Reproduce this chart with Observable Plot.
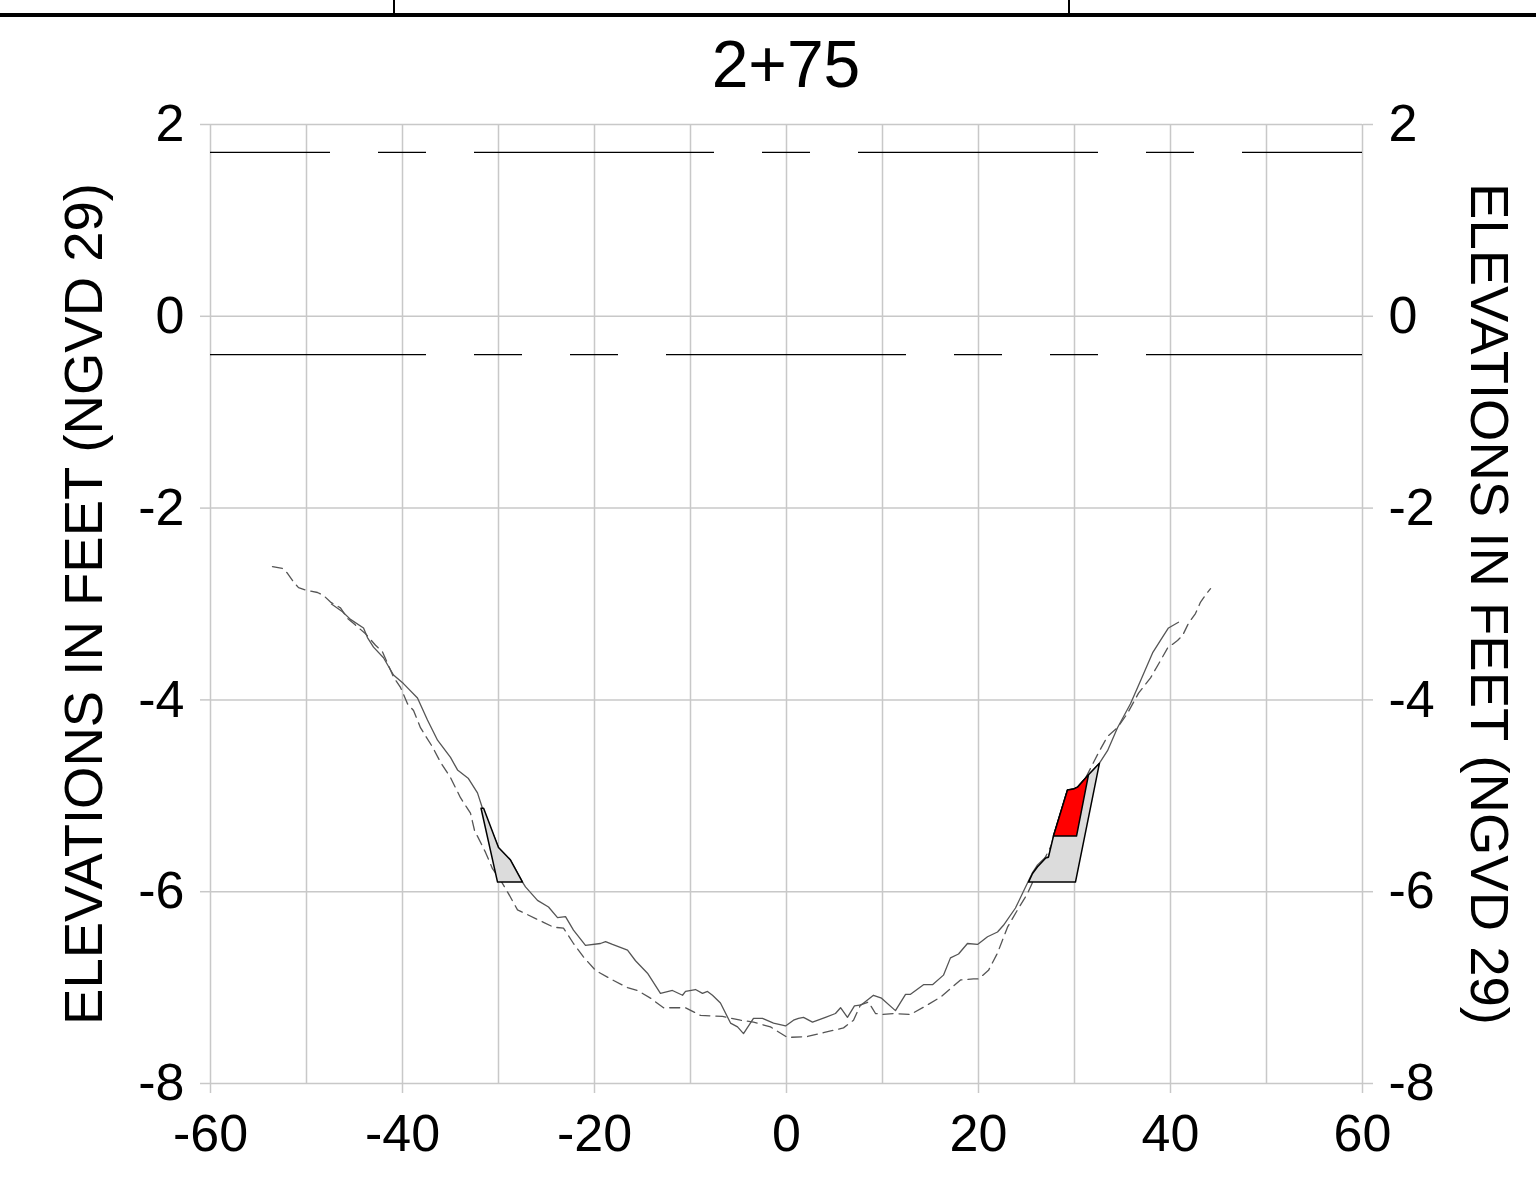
<!DOCTYPE html>
<html>
<head>
<meta charset="utf-8">
<script src="https://cdn.jsdelivr.net/npm/d3@7"></script>
<script src="https://cdn.jsdelivr.net/npm/@observablehq/plot@0.6"></script>
<style>
  html, body { margin: 0; padding: 0; background: white; }
  body { position: relative; width: 1536px; height: 1185px; overflow: hidden; font-family: "Liberation Sans", Arial, sans-serif; }
  #header { position: absolute; left: 0; top: 0; width: 1536px; height: 100px; z-index: 2; pointer-events: none; }
  #rule { position: absolute; left: 0; top: 13px; width: 1536px; height: 4px; background: black; }
  .vsep { position: absolute; top: 0; width: 1.5px; height: 13px; background: black; }
  #title { position: absolute; left: 386px; width: 800px; top: 31px; text-align: center; font-size: 66px; line-height: 66px; color: black; }
  #chart { position: absolute; left: 0; top: 0; z-index: 1; }
  #chart svg { display: block; }
</style>
</head>
<body>
<div id="chart"></div>
<div id="header">
  <div id="rule"></div>
  <div class="vsep" style="left:393px"></div>
  <div class="vsep" style="left:1068px"></div>
  <div id="title"></div>
</div>
<script>
// ---- Data ----
const stationTitle = "2+75";
const axisTitle = "ELEVATIONS IN FEET (NGVD 29)";
const xTicks = [-60, -40, -20, 0, 20, 40, 60];
const yTicks = [-8, -6, -4, -2, 0, 2];
const xGrid = [-60, -50, -40, -30, -20, -10, 0, 10, 20, 30, 40, 50, 60];
const yGrid = [-8, -6, -4, -2, 0, 2];
const upperWaterLevel = 1.71;
const lowerWaterLevel = -0.40;

// Solid profile (offset ft, elevation ft)
const solidProfile = [
  [-47.40,-3.00],[-46.25,-3.08],[-45.42,-3.16],[-44.06,-3.25],[-43.65,-3.35],[-43.02,-3.45],
  [-41.98,-3.56],[-40.94,-3.74],[-39.90,-3.83],[-38.44,-3.98],[-37.40,-4.21],[-36.35,-4.42],
  [-35.00,-4.60],[-34.27,-4.73],[-33.13,-4.82],[-32.19,-4.97],[-31.67,-5.13],[-30.00,-5.54],
  [-28.75,-5.67],[-27.50,-5.90],[-27.19,-5.95],[-25.94,-6.09],[-24.79,-6.16],[-23.85,-6.27],
  [-23.02,-6.26],[-22.19,-6.40],[-20.94,-6.56],[-19.38,-6.54],[-18.85,-6.52],[-18.13,-6.55],
  [-16.56,-6.61],[-15.73,-6.72],[-14.48,-6.85],[-13.13,-7.06],[-11.88,-7.03],[-10.83,-7.08],
  [-10.52,-7.04],[-9.48,-7.02],[-8.75,-7.06],[-8.23,-7.04],[-7.71,-7.08],[-6.88,-7.16],
  [-5.83,-7.37],[-5.10,-7.41],[-4.48,-7.48],[-3.44,-7.32],[-2.50,-7.32],[-1.35,-7.37],
  [-0.10,-7.40],[0.73,-7.34],[1.25,-7.32],[1.77,-7.31],[2.71,-7.36],[4.06,-7.31],
  [5.10,-7.27],[5.63,-7.21],[6.35,-7.31],[7.08,-7.19],[7.81,-7.18],[9.06,-7.08],
  [9.90,-7.11],[11.35,-7.24],[12.40,-7.07],[12.92,-7.07],[14.27,-6.97],[15.21,-6.97],
  [16.35,-6.87],[17.08,-6.69],[17.92,-6.65],[18.85,-6.54],[19.90,-6.55],[20.94,-6.47],
  [21.98,-6.42],[22.60,-6.35],[23.85,-6.17],[25.10,-5.91],[25.63,-5.80],[26.15,-5.72],
  [26.98,-5.64],[27.29,-5.64],[27.81,-5.42],[29.27,-4.94],[29.90,-4.93],[30.31,-4.91],
  [31.46,-4.78],[32.60,-4.66],[33.44,-4.53],[34.48,-4.29],[35.83,-4.04],[36.88,-3.80],
  [38.13,-3.51],[39.27,-3.33],[39.79,-3.25],[40.83,-3.19]
];

// Dashed profile
const dashedProfile = [
  [-53.54,-2.61],[-52.50,-2.63],[-51.98,-2.68],[-51.35,-2.77],[-50.83,-2.83],[-49.90,-2.86],
  [-48.85,-2.88],[-48.23,-2.91],[-47.50,-2.98],[-46.46,-3.04],[-45.73,-3.15],[-44.90,-3.22],
  [-43.85,-3.31],[-42.81,-3.43],[-42.08,-3.50],[-41.56,-3.62],[-40.94,-3.76],[-40.21,-3.87],
  [-39.48,-4.04],[-38.85,-4.11],[-38.13,-4.29],[-36.88,-4.49],[-36.04,-4.65],[-35.00,-4.81],
  [-33.96,-5.02],[-32.92,-5.18],[-32.50,-5.36],[-31.35,-5.59],[-30.63,-5.76],[-29.79,-5.88],
  [-28.96,-6.02],[-28.02,-6.19],[-25.31,-6.32],[-24.27,-6.37],[-23.23,-6.38],[-22.19,-6.54],
  [-21.15,-6.68],[-19.90,-6.82],[-18.33,-6.91],[-16.56,-7.00],[-15.52,-7.03],[-14.17,-7.11],
  [-12.81,-7.21],[-10.52,-7.21],[-8.96,-7.29],[-6.67,-7.30],[-4.79,-7.34],[-3.44,-7.36],
  [-1.67,-7.41],[0.10,-7.52],[2.19,-7.51],[3.85,-7.47],[5.94,-7.42],[6.98,-7.34],
  [7.71,-7.18],[8.54,-7.15],[9.27,-7.27],[10.00,-7.28],[11.15,-7.27],[12.92,-7.28],
  [14.69,-7.18],[16.04,-7.10],[17.08,-7.01],[18.13,-6.92],[19.48,-6.91],[20.00,-6.91],
  [21.04,-6.82],[21.98,-6.64],[23.02,-6.37],[24.06,-6.19],[25.10,-6.02],[25.73,-5.88],
  [26.25,-5.78],[32.50,-4.55],[33.44,-4.38],[34.48,-4.29],[35.52,-4.14],[36.67,-3.93],
  [37.92,-3.77],[38.96,-3.59],[39.69,-3.46],[40.73,-3.38],[41.25,-3.33],[41.88,-3.20],
  [42.60,-3.10],[43.13,-2.98],[43.85,-2.88],[44.17,-2.84]
];

// Filled areas (polygon vertices)
const leftFill = [
  [-31.82,-5.13],[-31.55,-5.13],[-30.00,-5.54],[-28.75,-5.67],[-27.50,-5.90],[-30.10,-5.90],[-31.82,-5.13]
];
const rightFill = [
  [25.21,-5.90],[25.63,-5.81],[26.15,-5.74],[26.98,-5.65],[27.29,-5.64],[27.81,-5.42],
  [29.27,-4.94],[29.90,-4.93],[30.31,-4.91],[31.46,-4.78],[32.60,-4.66],[30.10,-5.90],[25.21,-5.90]
];
const redFill = [
  [27.81,-5.42],[29.27,-4.94],[29.90,-4.93],[30.31,-4.91],[31.46,-4.78],[30.21,-5.42],[27.81,-5.42]
];

// ---- Chart ----
document.getElementById("title").textContent = stationTitle;

const gridStyle = {stroke: "#c8c8c8", strokeOpacity: 1, strokeWidth: 1.5};
const fmt = d => String(d);
const X = d => d[0], Y = d => d[1];

const chart = Plot.plot({
  width: 1536,
  height: 1185,
  marginLeft: 210,
  marginRight: 174,
  marginTop: 124,
  marginBottom: 102,
  style: {fontFamily: "'Liberation Sans', Arial, sans-serif", fontSize: "52px", background: "white", color: "black"},
  x: {domain: [-60, 60]},
  y: {domain: [-8, 2]},
  marks: [
    Plot.gridX(xGrid, gridStyle),
    Plot.gridY(yGrid, gridStyle),
    Plot.axisX(xTicks, {anchor: "bottom", tickSize: 10, tickPadding: 21, stroke: "#c8c8c8", strokeWidth: 1.5, fill: "black", fontSize: 52, tickFormat: fmt, label: null}),
    Plot.axisY(yTicks, {anchor: "left", tickSize: 10, tickPadding: 16, stroke: "#c8c8c8", strokeWidth: 1.5, fill: "black", fontSize: 52, tickFormat: fmt, label: null}),
    Plot.axisY(yTicks, {anchor: "right", tickSize: 10, tickPadding: 16, stroke: "#c8c8c8", strokeWidth: 1.5, fill: "black", fontSize: 52, tickFormat: fmt, label: null}),
    Plot.ruleY([upperWaterLevel], {stroke: "black", strokeWidth: 1.2, strokeDasharray: "240,48,48,48", strokeDashoffset: 120}),
    Plot.ruleY([lowerWaterLevel], {stroke: "black", strokeWidth: 1.2, strokeDasharray: "240,48,48,48,48,48", strokeDashoffset: 24}),
    Plot.line(dashedProfile, {x: X, y: Y, stroke: "#555", strokeWidth: 1.3, strokeDasharray: "10,6"}),
    Plot.line(solidProfile, {x: X, y: Y, stroke: "#555", strokeWidth: 1.3}),
    Plot.line(leftFill, {x: X, y: Y, fill: "#dcdcdc", stroke: "black", strokeWidth: 1.5, strokeLinejoin: "round"}),
    Plot.line(rightFill, {x: X, y: Y, fill: "#dcdcdc", stroke: "black", strokeWidth: 1.5, strokeLinejoin: "round"}),
    Plot.line(redFill, {x: X, y: Y, fill: "#ff0000", stroke: "black", strokeWidth: 1.5, strokeLinejoin: "round"}),
    Plot.text([axisTitle], {text: d => d, frameAnchor: "left", dx: -126, rotate: -90, fontSize: 54.5, fill: "black", textAnchor: "middle", lineAnchor: "middle"}),
    Plot.text([axisTitle], {text: d => d, frameAnchor: "right", dx: 126, rotate: 90, fontSize: 54.5, fill: "black", textAnchor: "middle", lineAnchor: "middle"})
  ]
});
document.getElementById("chart").appendChild(chart);
</script>
</body>
</html>
